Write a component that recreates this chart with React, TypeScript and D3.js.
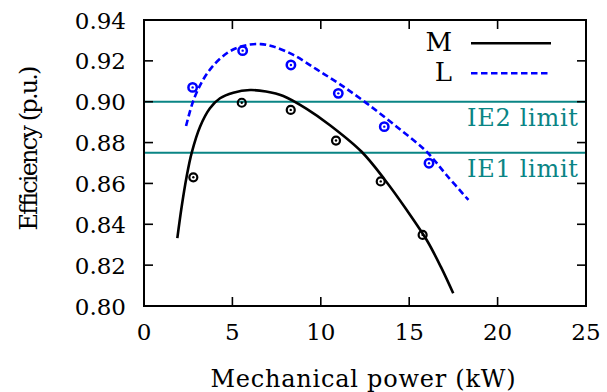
import React from "react";
import * as d3 from "d3";

// Measured operating points (kW, p.u.)
const mPointsX = [2.79, 5.53, 8.3, 10.86, 13.39, 15.76];
const mPointsY = [0.863, 0.8995, 0.896, 0.881, 0.861, 0.8348];
const lPointsX = [2.75, 5.58, 8.31, 10.99, 13.59, 16.12];
const lPointsY = [0.907, 0.925, 0.918, 0.9041, 0.8878, 0.8699];

// Fitted efficiency curves
const mCurveX = [1.885, 2.13, 2.41, 2.7, 3.17, 3.73, 4.3, 5.05, 6.0, 6.9, 7.88, 9.2, 10.52, 12.31, 13.63, 14.86, 15.99, 16.8, 17.49];
const mCurveY = [0.8332, 0.8486, 0.8633, 0.8751, 0.8878, 0.8968, 0.9017, 0.9044, 0.9057, 0.905, 0.9028, 0.8965, 0.8885, 0.8755, 0.8617, 0.847, 0.8323, 0.819, 0.8062];
const lCurveX = [2.38, 2.79, 3.36, 4.0, 4.68, 5.3, 6.0, 6.6, 7.31, 8.45, 9.77, 11.09, 12.6, 14.29, 15.99, 17.12, 18.35];
const lCurveY = [0.8881, 0.9005, 0.911, 0.9185, 0.9237, 0.9265, 0.928, 0.9282, 0.927, 0.9229, 0.9158, 0.9085, 0.8992, 0.8878, 0.8755, 0.864, 0.8519];

// Efficiency class limits
const limitNames = ["IE2 limit", "IE1 limit"];
const limitValues = [0.9, 0.875];

const xTicks = [0, 5, 10, 15, 20, 25];
const yTicks = [0.8, 0.82, 0.84, 0.86, 0.88, 0.9, 0.92, 0.94];

const seriesNames = ["M", "L"];

const W = 607;
const H = 392;
const left = 144;
const right = 586;
const top = 20;
const bottom = 306;

const FONT = "DejaVu Serif";
const TEAL = "#0a8585";
const BLUE = "#0000ff";

export default function App() {
  const x = d3.scaleLinear().domain([0, 25]).range([left, right]);
  const y = d3.scaleLinear().domain([0.8, 0.94]).range([bottom, top]);

  const line = d3
    .line<[number, number]>()
    .x((d) => x(d[0]))
    .y((d) => y(d[1]))
    .curve(d3.curveCatmullRom.alpha(0.5));

  const mPath = line(mCurveX.map((v, i) => [v, mCurveY[i]] as [number, number])) || "";
  const lPath = line(lCurveX.map((v, i) => [v, lCurveY[i]] as [number, number])) || "";

  const tickLen = 9;
  const txt = { fontFamily: FONT, fontWeight: 300 as const };

  const marker = (cx: number, cy: number, color: string, r: number, sw: number, key: string) => (
    <g key={key}>
      <circle cx={cx} cy={cy} r={r} fill="none" stroke={color} strokeWidth={sw} />
      <circle cx={cx} cy={cy} r={1.2} fill={color} />
    </g>
  );

  return (
    <svg width={W} height={H} style={{ position: "absolute", left: 0, top: 0, background: "#fff" }}>
      <rect x={0} y={0} width={W} height={H} fill="#fff" />

      {/* limit lines */}
      {limitValues.map((v, i) => (
        <line key={"lim" + i} x1={left} x2={right} y1={y(v)} y2={y(v)} stroke={TEAL} strokeWidth={2} />
      ))}
      {limitValues.map((v, i) => (
        <text
          key={"limt" + i}
          x={578}
          y={y(v) + 24.5}
          textAnchor="end"
          fontSize={24}
          fill={TEAL}
          style={txt}
          textLength={111}
          lengthAdjust="spacing"
        >
          {limitNames[i]}
        </text>
      ))}

      {/* curves */}
      <path d={mPath} fill="none" stroke="#000" strokeWidth={2.6} />
      <path d={lPath} fill="none" stroke={BLUE} strokeWidth={2.6} strokeDasharray="6.5,3.5" />

      {/* measured points */}
      {mPointsX.map((v, i) => marker(x(v), y(mPointsY[i]), "#000", 4, 2.2, "m" + i))}
      {lPointsX.map((v, i) => marker(x(v), y(lPointsY[i]), BLUE, 4.2, 2.5, "l" + i))}

      {/* frame */}
      <rect x={left} y={top} width={right - left} height={bottom - top} fill="none" stroke="#000" strokeWidth={2} />

      {/* ticks */}
      {xTicks.map((t) => (
        <g key={"xt" + t}>
          <line x1={x(t)} x2={x(t)} y1={bottom} y2={bottom - tickLen} stroke="#000" strokeWidth={1.6} />
          <line x1={x(t)} x2={x(t)} y1={top} y2={top + tickLen} stroke="#000" strokeWidth={1.6} />
          <text x={x(t)} y={340} textAnchor="middle" fontSize={23} style={txt}>
            {t}
          </text>
        </g>
      ))}
      {yTicks.map((t) => (
        <g key={"yt" + t}>
          <line x1={left} x2={left + tickLen} y1={y(t)} y2={y(t)} stroke="#000" strokeWidth={1.6} />
          <line x1={right} x2={right - tickLen} y1={y(t)} y2={y(t)} stroke="#000" strokeWidth={1.6} />
          <text x={126} y={y(t) + 8.5} textAnchor="end" fontSize={23} style={txt}>
            {t.toFixed(2)}
          </text>
        </g>
      ))}

      {/* axis titles */}
      <text
        x={(left + right) / 2 - 2}
        y={386.5}
        textAnchor="middle"
        fontSize={24}
        style={txt}
        textLength={305}
        lengthAdjust="spacing"
      >
        Mechanical power (kW)
      </text>
      <text
        transform={`translate(37,148) rotate(-90)`}
        textAnchor="middle"
        fontSize={24}
        style={txt}
        textLength={165}
        lengthAdjust="spacing"
      >
        Efficiency (p.u.)
      </text>

      {/* legend */}
      <text x={452} y={51} textAnchor="end" fontSize={26} style={txt}>
        {seriesNames[0]}
      </text>
      <line x1={471} x2={551} y1={43.3} y2={43.3} stroke="#000" strokeWidth={2.6} />
      <text x={452} y={80.5} textAnchor="end" fontSize={26} style={txt}>
        {seriesNames[1]}
      </text>
      <line x1={471} x2={551} y1={73.3} y2={73.3} stroke={BLUE} strokeWidth={2.6} strokeDasharray="6.5,3.5" />
    </svg>
  );
}
